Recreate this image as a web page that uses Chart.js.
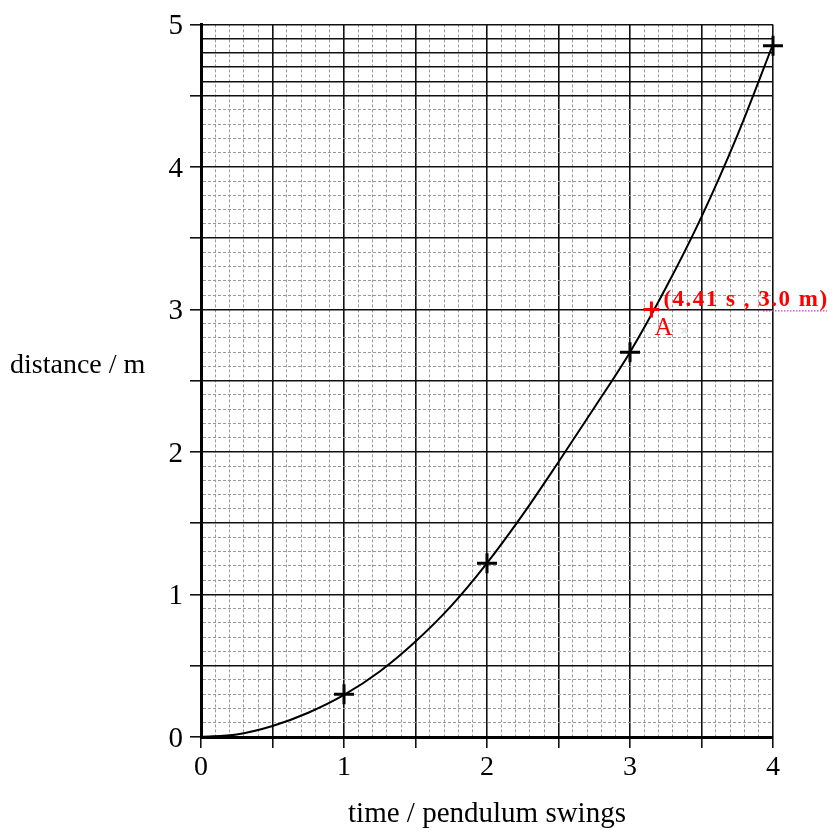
<!DOCTYPE html>
<html>
<head>
<meta charset="utf-8">
<script src="https://cdn.jsdelivr.net/npm/chart.js@4"></script>
<style>
  html, body { margin: 0; padding: 0; background: #fff; }
  #wrap { width: 835px; height: 832px; }
</style>
</head>
<body>
<div id="wrap"><canvas id="c" width="835" height="832"></canvas></div>
<script>
// ---- data ----
const xTitle = "time / pendulum swings";
const yTitle = "distance / m";
const xTickLabels = ["0", "1", "2", "3", "4"];
const yTickLabels = ["0", "1", "2", "3", "4", "5"];

const measuredTime = [1, 2, 3, 4];
const measuredDistance = [0.30, 1.22, 2.70, 4.85];

const curveTime = [0, 0.25, 0.5, 0.75, 1, 1.25, 1.5, 1.75, 2, 2.25, 2.5, 2.75, 3, 3.25, 3.5, 3.75, 4];
const curveDistance = [0, 0.018, 0.077, 0.17, 0.295, 0.46, 0.67, 0.92, 1.22, 1.56, 1.93, 2.31, 2.70, 3.15, 3.65, 4.22, 4.86];

const pointATime = [3.15];
const pointADistance = [3.0];
const pointALabel = "(4.41 s , 3.0 m)";
const pointAName = "A";

const faintMarkTime = [3.38];
const faintMarkDistance = [2.85];

// ---- helpers ----
const near = (v, step) => Math.abs(v / step - Math.round(v / step)) < 1e-6;
const isMajorX = v => near(v, 0.5);
const isMajorY = v => near(v, 0.5) || v > 4.55;

const serif = "'Liberation Serif', 'Times New Roman', serif";

const annotationPlugin = {
  id: 'annot',
  afterDraw(chart) {
    const ctx = chart.ctx;
    const xs = chart.scales.x, ys = chart.scales.y;
    // y axis title (horizontal)
    ctx.save();
    ctx.fillStyle = '#000';
    ctx.font = "28px " + serif;
    ctx.textAlign = 'left';
    ctx.textBaseline = 'alphabetic';
    ctx.fillText(yTitle, 10, 373);
    // point A label
    const px = xs.getPixelForValue(pointATime[0]);
    const py = ys.getPixelForValue(pointADistance[0]);
    // dotted magenta line
    ctx.strokeStyle = '#c03cc8';
    ctx.lineWidth = 1.2;
    ctx.setLineDash([1.5, 1.5]);
    ctx.beginPath();
    ctx.moveTo(xs.getPixelForValue(3.93), py + 1.5);
    ctx.lineTo(chart.width - 8, py + 1.5);
    ctx.stroke();
    ctx.setLineDash([]);
    ctx.fillStyle = '#ff0000';
    ctx.font = "bold 23px " + serif;
    try { ctx.letterSpacing = '1.5px'; } catch (e) {}
    ctx.fillText(pointALabel, px + 12, py - 3);
    try { ctx.letterSpacing = '0px'; } catch (e) {}
    ctx.font = "25px " + serif;
    ctx.fillText(pointAName, px + 3, py + 26);
    ctx.restore();
  }
};

new Chart(document.getElementById('c'), {
  type: 'scatter',
  data: {
    datasets: [
      {
        type: 'line',
        label: 'curve',
        data: curveTime.map((t, i) => ({x: t, y: curveDistance[i]})),
        borderColor: '#000',
        borderWidth: 2,
        pointRadius: 0,
        cubicInterpolationMode: 'monotone',
        fill: false,
        order: 3
      },
      {
        label: 'measured',
        data: measuredTime.map((t, i) => ({x: t, y: measuredDistance[i]})),
        pointStyle: 'cross',
        pointRadius: 10,
        pointBorderWidth: 3,
        borderColor: '#000',
        backgroundColor: '#000',
        clip: false,
        order: 1
      },
      {
        label: 'A',
        data: pointATime.map((t, i) => ({x: t, y: pointADistance[i]})),
        pointStyle: 'cross',
        pointRadius: 8,
        pointBorderWidth: 3,
        borderColor: '#ff0000',
        backgroundColor: '#ff0000',
        clip: false,
        order: 0
      },
      {
        label: 'faint',
        data: faintMarkTime.map((t, i) => ({x: t, y: faintMarkDistance[i]})),
        pointStyle: 'crossRot',
        pointRadius: 4,
        pointBorderWidth: 1.5,
        borderColor: '#e4e4e4',
        backgroundColor: '#e4e4e4',
        order: 2
      }
    ]
  },
  options: {
    responsive: false,
    animation: false,
    events: [],
    layout: { padding: { top: 23, right: 62, left: 0, bottom: 0 } },
    plugins: { legend: { display: false }, tooltip: { enabled: false } },
    scales: {
      x: {
        type: 'linear',
        min: 0, max: 4,
        afterFit(s) { s.height = 95; },
        afterBuildTicks(s) {
          const t = [];
          for (let i = 0; i <= 40; i++) t.push({value: i / 10});
          s.ticks = t;
        },
        ticks: {
          autoSkip: false,
          maxRotation: 0,
          padding: 3,
          color: '#000',
          font: { family: serif, size: 28 },
          callback: (v) => near(v, 1) ? xTickLabels[Math.round(v)] : ''
        },
        grid: {
          color: c => isMajorX(c.tick.value) ? '#111' : '#9a9a9a',
          lineWidth: c => isMajorX(c.tick.value) ? 1.6 : 1,
          tickColor: c => isMajorX(c.tick.value) ? '#111' : 'rgba(0,0,0,0)',
          tickWidth: 1.6,
          tickLength: 11
        },
        border: {
          display: true, color: '#000', width: 3,
          dash: c => (c.tick && !isMajorX(c.tick.value)) ? [3, 2] : []
        },
        title: {
          display: true,
          text: xTitle,
          color: '#000',
          font: { family: serif, size: 29, lineHeight: 1.2 },
          padding: { top: 0, bottom: 0 }
        }
      },
      y: {
        type: 'linear',
        min: 0, max: 5,
        afterFit(s) { s.width = 201; },
        afterBuildTicks(s) {
          const t = [];
          for (let i = 0; i <= 50; i++) t.push({value: i / 10});
          s.ticks = t;
        },
        ticks: {
          autoSkip: false,
          padding: 7,
          labelOffset: 2,
          color: '#000',
          font: { family: serif, size: 29 },
          callback: (v) => near(v, 1) ? yTickLabels[Math.round(v)] : ''
        },
        grid: {
          color: c => isMajorY(c.tick.value) ? '#111' : '#9a9a9a',
          lineWidth: c => isMajorY(c.tick.value) ? 1.6 : 1,
          tickColor: c => near(c.tick.value, 0.5) ? '#111' : 'rgba(0,0,0,0)',
          tickWidth: 1.6,
          tickLength: 11
        },
        border: {
          display: true, color: '#000', width: 3,
          dash: c => (c.tick && !isMajorY(c.tick.value)) ? [3, 2] : []
        }
      }
    }
  },
  plugins: [annotationPlugin]
});
</script>
</body>
</html>
